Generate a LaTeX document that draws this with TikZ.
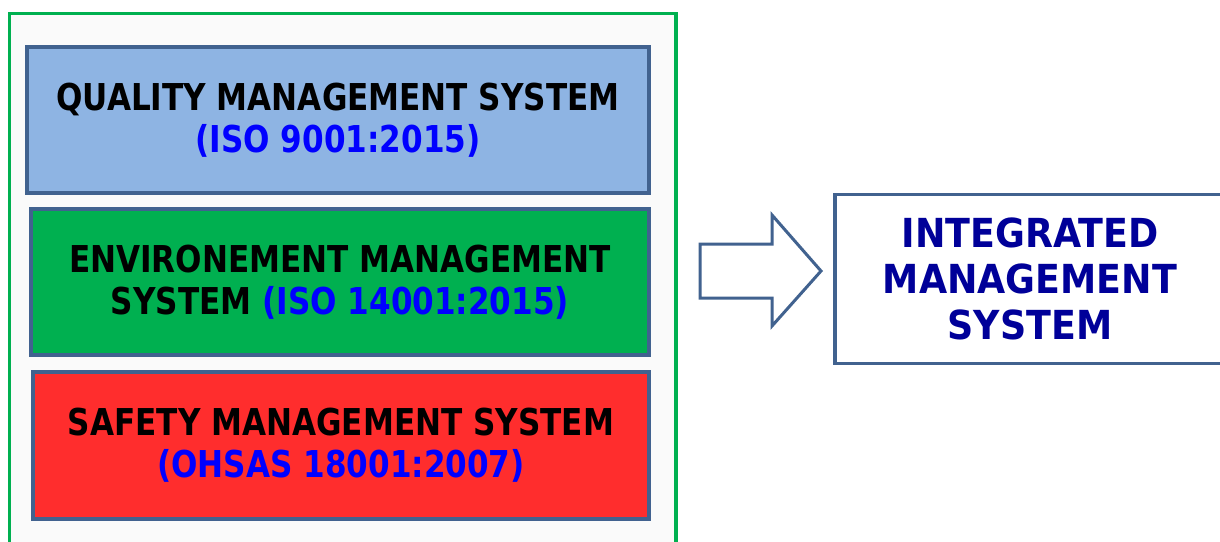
\documentclass[tikz,border=0pt]{standalone}
\usepackage{fontspec}
\newfontfamily\sysfont[FakeStretch=0.84]{DejaVu Sans Bold}
\newfontfamily\imsfont[FakeStretch=0.91]{DejaVu Sans Bold}
\definecolor{frame_green}{HTML}{00B050}
\definecolor{panel_bg}{HTML}{FAFAFA}
\definecolor{box_border}{HTML}{41628F}
\definecolor{qms_blue}{HTML}{8EB4E3}
\definecolor{ems_green}{HTML}{00B050}
\definecolor{sms_red}{HTML}{FF2D2D}
\definecolor{iso_blue}{HTML}{0000FF}
\definecolor{ims_navy}{HTML}{000099}

\begin{document}
\begin{tikzpicture}[x=1pt, y=-1pt,
    sysbox/.style={draw=box_border, line width=3.5pt, minimum height=146pt,
      align=center, inner sep=0pt, font=\sysfont\fontsize{37}{42}\selectfont}]
      \clip (0,0) rectangle (1220,541);
      \useasboundingbox (0,0) rectangle (1220,541);

      % outer frame round the three standards
      \draw[frame_green, line width=3.5pt, fill=panel_bg] (9.5,13.5) rectangle (676,560);

      \node[sysbox, fill=qms_blue, minimum width=622pt] (qms) at (338,120)
        {QUALITY MANAGEMENT SYSTEM\\\textcolor{iso_blue}{(ISO 9001:2015)}};
      \node[sysbox, fill=ems_green, minimum width=618pt] (ems) at (340,282)
        {ENVIRONEMENT MANAGEMENT\\SYSTEM \textcolor{iso_blue}{(ISO 14001:2015)}};
      \node[sysbox, fill=sms_red, minimum width=616pt, minimum height=147pt] (sms) at (341,445.5)
        {SAFETY MANAGEMENT SYSTEM\\\textcolor{iso_blue}{(OHSAS 18001:2007)}};

      \node[draw=box_border, line width=3.5pt, fill=white, minimum width=390pt, minimum height=169pt,
        align=center, inner sep=0pt, text=ims_navy, font=\imsfont\fontsize{40}{46}\selectfont]
        (ims) at (1030,279) {INTEGRATED\\MANAGEMENT\\SYSTEM};

      % block arrow
      \draw[box_border, line width=3pt, fill=white, line join=miter]
        (700,244) -- (772,244) -- (772,215) -- (821,271) -- (772,326) -- (772,298) -- (700,298) -- cycle;

    \end{tikzpicture}
\end{document}
